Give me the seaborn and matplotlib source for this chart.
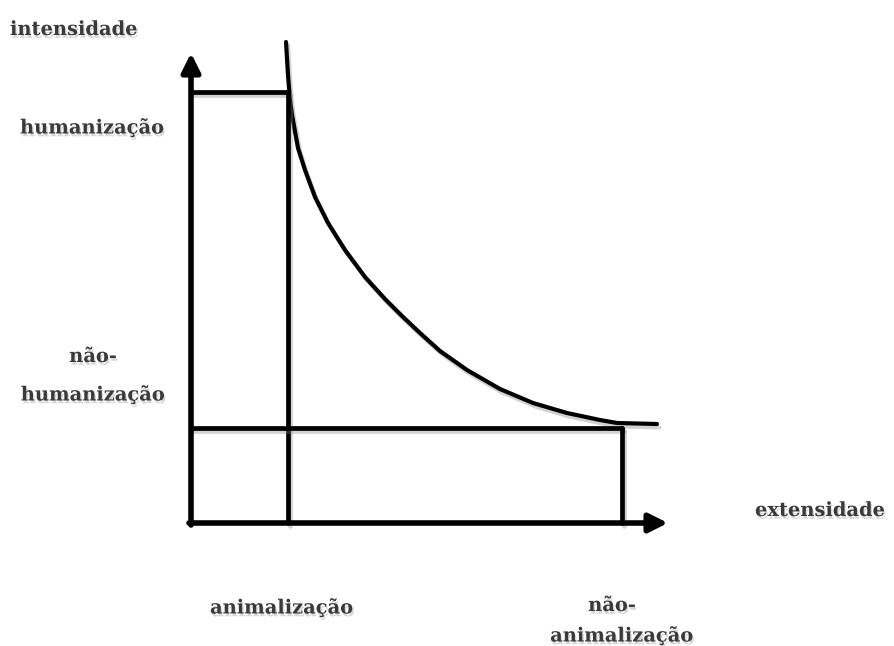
import numpy as np
import matplotlib.pyplot as plt
import matplotlib.patheffects as pe
import seaborn as sns

# Levels on each axis (diagram units, origin at the axes corner)
x_animalizacao = 97
x_nao_animalizacao = 431
y_nao_humanizacao = 95
y_humanizacao = 431

# Decreasing curve (pixel positions in the reference)
curve_px = [286, 288, 290, 292, 298, 305, 315, 328, 345, 365, 385, 402, 420, 440,
            467, 500, 533, 567, 600, 617, 657]
curve_py = [42, 75, 100, 115, 148, 170, 197, 223, 250, 277, 299, 316, 333, 351,
            370, 389, 403, 413, 420, 423, 424]
# to diagram units
curve_x = [p - 191 for p in curve_px]
curve_y = [523 - p for p in curve_py]

sns.set_theme(style="white")
plt.rcParams['font.family'] = ['DejaVu Serif']

fig = plt.figure(figsize=(8.94, 6.46), dpi=100)
ax = fig.add_axes([0, 0, 1, 1])
ax.set_xlim(-191, 703)
ax.set_ylim(-123, 523)
ax.axis('off')

shadow = [pe.SimpleLineShadow(offset=(1.5, -2.5), shadow_color='gray', alpha=0.35), pe.Normal()]
lw = 3.4

# curve
sns.lineplot(x=curve_x, y=curve_y, sort=False, color='black', lw=3.0, ax=ax,
             solid_joinstyle='round', path_effects=shadow)

# guide lines
ax.plot([0, x_animalizacao], [y_humanizacao, y_humanizacao], color='black', lw=lw, path_effects=shadow)
ax.plot([x_animalizacao, x_animalizacao], [0, y_humanizacao], color='black', lw=lw, path_effects=shadow)
ax.plot([0, x_nao_animalizacao], [y_nao_humanizacao, y_nao_humanizacao], color='black', lw=lw, path_effects=shadow)
ax.plot([x_nao_animalizacao, x_nao_animalizacao], [0, y_nao_humanizacao], color='black', lw=lw, path_effects=shadow)

# axes with arrows
arrow = dict(arrowstyle='-|>', lw=4, color='black', mutation_scale=28, shrinkA=0, shrinkB=0)
ax.annotate('', xy=(0, 470), xytext=(0, -2), arrowprops=arrow)
ax.annotate('', xy=(477, 0), xytext=(-2, 0), arrowprops=arrow)

txt = dict(fontsize=14, fontweight='bold', color='#3a3a3a',
           path_effects=[pe.withSimplePatchShadow(offset=(1, -2), shadow_rgbFace='gray', alpha=0.3)])
ax.text(-181, 493, 'intensidade', ha='left', va='center', **txt)
ax.text(-171, 395, 'humanização', ha='left', va='center', **txt)
ax.text(-98, 166, 'não-', ha='center', va='center', **txt)
ax.text(-98, 128, 'humanização', ha='center', va='center', **txt)
ax.text(564, 12, 'extensidade', ha='left', va='center', **txt)
ax.text(19, -85, 'animalização', ha='left', va='center', **txt)
ax.text(421, -83, 'não-', ha='center', va='center', **txt)
ax.text(431, -113, 'animalização', ha='center', va='center', **txt)

fig.savefig('out.png', dpi=100)
